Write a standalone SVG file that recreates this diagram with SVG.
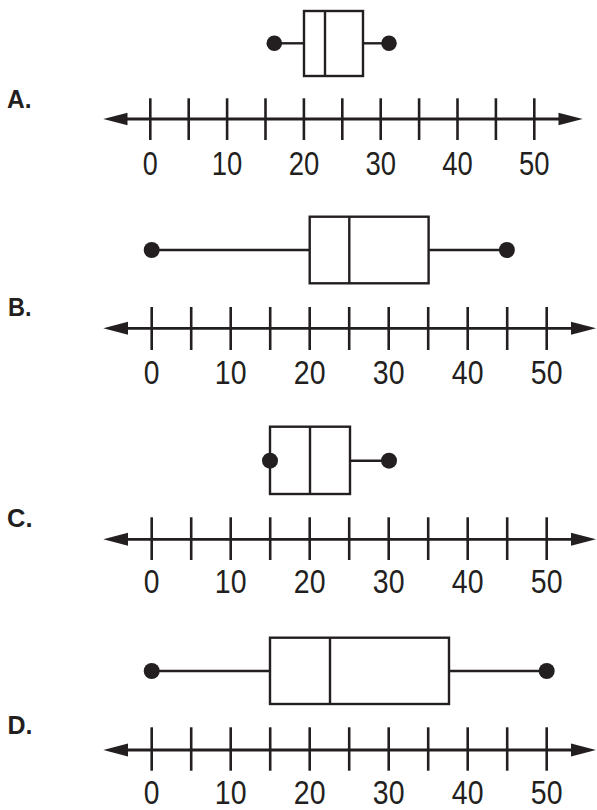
<svg xmlns="http://www.w3.org/2000/svg" width="597" height="810" viewBox="0 0 597 810">
<style>
.ln{stroke:#231f20;fill:none;stroke-width:2.4}
.ax{stroke:#231f20;stroke-width:2.8;fill:none}
.tk{stroke:#231f20;stroke-width:2.6}
.ah{fill:#231f20}
.dot{fill:#231f20}
.box{stroke:#231f20;fill:#fff;stroke-width:2.4}
.num{font-family:"Liberation Sans",Arial,sans-serif;font-size:33px;fill:#231f20;text-anchor:middle}
.lab{font-family:"Liberation Sans",Arial,sans-serif;font-size:25px;font-weight:bold;fill:#231f20}
</style>
<rect width="597" height="810" fill="#fff"/>

<g id="panelA">
  <text class="lab" x="7" y="107.5" textLength="24.5" lengthAdjust="spacingAndGlyphs">A.</text>
  <g id="boxA">
    <line class="ln" x1="274.3" y1="43.3" x2="304" y2="43.3"/>
    <line class="ln" x1="363" y1="43.3" x2="389" y2="43.3"/>
    <rect class="box" x="304" y="11" width="59" height="65"/>
    <line class="ln" x1="325" y1="11" x2="325" y2="76"/>
    <circle class="dot" cx="274.3" cy="43.3" r="7.8"/>
    <circle class="dot" cx="389" cy="43.3" r="7.8"/>
  </g>
  <g id="axisA">
    <line class="ax" x1="122" y1="119" x2="565" y2="119"/>
    <polygon class="ah" points="103.3,119 127.5,112.7 127.5,125.3"/>
    <polygon class="ah" points="582.7,119 558.5,112.7 558.5,125.3"/>
    <g class="tk">
      <line x1="150.3" y1="98.3" x2="150.3" y2="140"/>
      <line x1="188.7" y1="98.3" x2="188.7" y2="140"/>
      <line x1="227.1" y1="98.3" x2="227.1" y2="140"/>
      <line x1="265.5" y1="98.3" x2="265.5" y2="140"/>
      <line x1="303.9" y1="98.3" x2="303.9" y2="140"/>
      <line x1="342.3" y1="98.3" x2="342.3" y2="140"/>
      <line x1="380.7" y1="98.3" x2="380.7" y2="140"/>
      <line x1="419.1" y1="98.3" x2="419.1" y2="140"/>
      <line x1="457.5" y1="98.3" x2="457.5" y2="140"/>
      <line x1="495.9" y1="98.3" x2="495.9" y2="140"/>
      <line x1="534.3" y1="98.3" x2="534.3" y2="140"/>
    </g>
    <text class="num" x="150.3" y="175" textLength="15" lengthAdjust="spacingAndGlyphs">0</text>
    <text class="num" x="227.1" y="175" textLength="30.5" lengthAdjust="spacingAndGlyphs">10</text>
    <text class="num" x="303.9" y="175" textLength="30.5" lengthAdjust="spacingAndGlyphs">20</text>
    <text class="num" x="380.7" y="175" textLength="30.5" lengthAdjust="spacingAndGlyphs">30</text>
    <text class="num" x="457.5" y="175" textLength="30.5" lengthAdjust="spacingAndGlyphs">40</text>
    <text class="num" x="534.3" y="175" textLength="30.5" lengthAdjust="spacingAndGlyphs">50</text>
  </g>
</g>

<g id="panelB">
  <text class="lab" x="8" y="316" textLength="23.5" lengthAdjust="spacingAndGlyphs">B.</text>
  <g id="boxB">
    <line class="ln" x1="151.7" y1="250" x2="309.7" y2="250"/>
    <line class="ln" x1="428.6" y1="250" x2="506.9" y2="250"/>
    <rect class="box" x="309.7" y="216.7" width="118.9" height="66.6"/>
    <line class="ln" x1="349.3" y1="216.7" x2="349.3" y2="283.3"/>
    <circle class="dot" cx="151.7" cy="250" r="8"/>
    <circle class="dot" cx="506.9" cy="250" r="8"/>
  </g>
  <g id="axisB">
    <line class="ax" x1="122" y1="328.3" x2="578" y2="328.3"/>
    <polygon class="ah" points="103.3,328.3 128,321.8 128,334.8"/>
    <polygon class="ah" points="596,328.3 571,321.8 571,334.8"/>
    <g class="tk">
      <line x1="151.7" y1="307" x2="151.7" y2="350"/>
      <line x1="191.2" y1="307" x2="191.2" y2="350"/>
      <line x1="230.7" y1="307" x2="230.7" y2="350"/>
      <line x1="270.2" y1="307" x2="270.2" y2="350"/>
      <line x1="309.7" y1="307" x2="309.7" y2="350"/>
      <line x1="349.2" y1="307" x2="349.2" y2="350"/>
      <line x1="388.7" y1="307" x2="388.7" y2="350"/>
      <line x1="428.2" y1="307" x2="428.2" y2="350"/>
      <line x1="467.7" y1="307" x2="467.7" y2="350"/>
      <line x1="507.2" y1="307" x2="507.2" y2="350"/>
      <line x1="546.7" y1="307" x2="546.7" y2="350"/>
    </g>
    <text class="num" x="151.7" y="384.3" textLength="15.7" lengthAdjust="spacingAndGlyphs">0</text>
    <text class="num" x="230.7" y="384.3" textLength="31.7" lengthAdjust="spacingAndGlyphs">10</text>
    <text class="num" x="309.7" y="384.3" textLength="31.7" lengthAdjust="spacingAndGlyphs">20</text>
    <text class="num" x="388.7" y="384.3" textLength="31.7" lengthAdjust="spacingAndGlyphs">30</text>
    <text class="num" x="467.7" y="384.3" textLength="31.7" lengthAdjust="spacingAndGlyphs">40</text>
    <text class="num" x="546.7" y="384.3" textLength="31.7" lengthAdjust="spacingAndGlyphs">50</text>
  </g>
</g>

<g id="panelC">
  <text class="lab" x="7" y="526.5" textLength="25.5" lengthAdjust="spacingAndGlyphs">C.</text>
  <g id="boxC">
    <line class="ln" x1="350" y1="460.7" x2="389" y2="460.7"/>
    <rect class="box" x="270" y="426.7" width="80" height="67.3"/>
    <line class="ln" x1="310" y1="426.7" x2="310" y2="494"/>
    <circle class="dot" cx="270" cy="460.7" r="8"/>
    <circle class="dot" cx="389" cy="460.7" r="8"/>
  </g>
  <g id="axisC">
    <line class="ax" x1="122" y1="539.3" x2="578" y2="539.3"/>
    <polygon class="ah" points="103.3,539.3 128,532.8 128,545.8"/>
    <polygon class="ah" points="596,539.3 571,532.8 571,545.8"/>
    <g class="tk">
      <line x1="151.7" y1="517.3" x2="151.7" y2="560"/>
      <line x1="191.2" y1="517.3" x2="191.2" y2="560"/>
      <line x1="230.7" y1="517.3" x2="230.7" y2="560"/>
      <line x1="270.2" y1="517.3" x2="270.2" y2="560"/>
      <line x1="309.7" y1="517.3" x2="309.7" y2="560"/>
      <line x1="349.2" y1="517.3" x2="349.2" y2="560"/>
      <line x1="388.7" y1="517.3" x2="388.7" y2="560"/>
      <line x1="428.2" y1="517.3" x2="428.2" y2="560"/>
      <line x1="467.7" y1="517.3" x2="467.7" y2="560"/>
      <line x1="507.2" y1="517.3" x2="507.2" y2="560"/>
      <line x1="546.7" y1="517.3" x2="546.7" y2="560"/>
    </g>
    <text class="num" x="151.7" y="593.3" textLength="15.7" lengthAdjust="spacingAndGlyphs">0</text>
    <text class="num" x="230.7" y="593.3" textLength="31.7" lengthAdjust="spacingAndGlyphs">10</text>
    <text class="num" x="309.7" y="593.3" textLength="31.7" lengthAdjust="spacingAndGlyphs">20</text>
    <text class="num" x="388.7" y="593.3" textLength="31.7" lengthAdjust="spacingAndGlyphs">30</text>
    <text class="num" x="467.7" y="593.3" textLength="31.7" lengthAdjust="spacingAndGlyphs">40</text>
    <text class="num" x="546.7" y="593.3" textLength="31.7" lengthAdjust="spacingAndGlyphs">50</text>
  </g>
</g>

<g id="panelD">
  <text class="lab" x="7.5" y="734" textLength="25" lengthAdjust="spacingAndGlyphs">D.</text>
  <g id="boxD">
    <line class="ln" x1="151.7" y1="671" x2="270" y2="671"/>
    <line class="ln" x1="449" y1="671" x2="546.7" y2="671"/>
    <rect class="box" x="270" y="637.7" width="179" height="66.3"/>
    <line class="ln" x1="330" y1="637.7" x2="330" y2="704"/>
    <circle class="dot" cx="151.7" cy="671" r="8"/>
    <circle class="dot" cx="546.7" cy="671" r="8"/>
  </g>
  <g id="axisD">
    <line class="ax" x1="122" y1="750" x2="578" y2="750"/>
    <polygon class="ah" points="103.3,750 128,743.5 128,756.5"/>
    <polygon class="ah" points="596,750 571,743.5 571,756.5"/>
    <g class="tk">
      <line x1="151.7" y1="727.3" x2="151.7" y2="770.7"/>
      <line x1="191.2" y1="727.3" x2="191.2" y2="770.7"/>
      <line x1="230.7" y1="727.3" x2="230.7" y2="770.7"/>
      <line x1="270.2" y1="727.3" x2="270.2" y2="770.7"/>
      <line x1="309.7" y1="727.3" x2="309.7" y2="770.7"/>
      <line x1="349.2" y1="727.3" x2="349.2" y2="770.7"/>
      <line x1="388.7" y1="727.3" x2="388.7" y2="770.7"/>
      <line x1="428.2" y1="727.3" x2="428.2" y2="770.7"/>
      <line x1="467.7" y1="727.3" x2="467.7" y2="770.7"/>
      <line x1="507.2" y1="727.3" x2="507.2" y2="770.7"/>
      <line x1="546.7" y1="727.3" x2="546.7" y2="770.7"/>
    </g>
    <text class="num" x="151.7" y="804.3" textLength="15.7" lengthAdjust="spacingAndGlyphs">0</text>
    <text class="num" x="230.7" y="804.3" textLength="31.7" lengthAdjust="spacingAndGlyphs">10</text>
    <text class="num" x="309.7" y="804.3" textLength="31.7" lengthAdjust="spacingAndGlyphs">20</text>
    <text class="num" x="388.7" y="804.3" textLength="31.7" lengthAdjust="spacingAndGlyphs">30</text>
    <text class="num" x="467.7" y="804.3" textLength="31.7" lengthAdjust="spacingAndGlyphs">40</text>
    <text class="num" x="546.7" y="804.3" textLength="31.7" lengthAdjust="spacingAndGlyphs">50</text>
  </g>
</g>
</svg>
